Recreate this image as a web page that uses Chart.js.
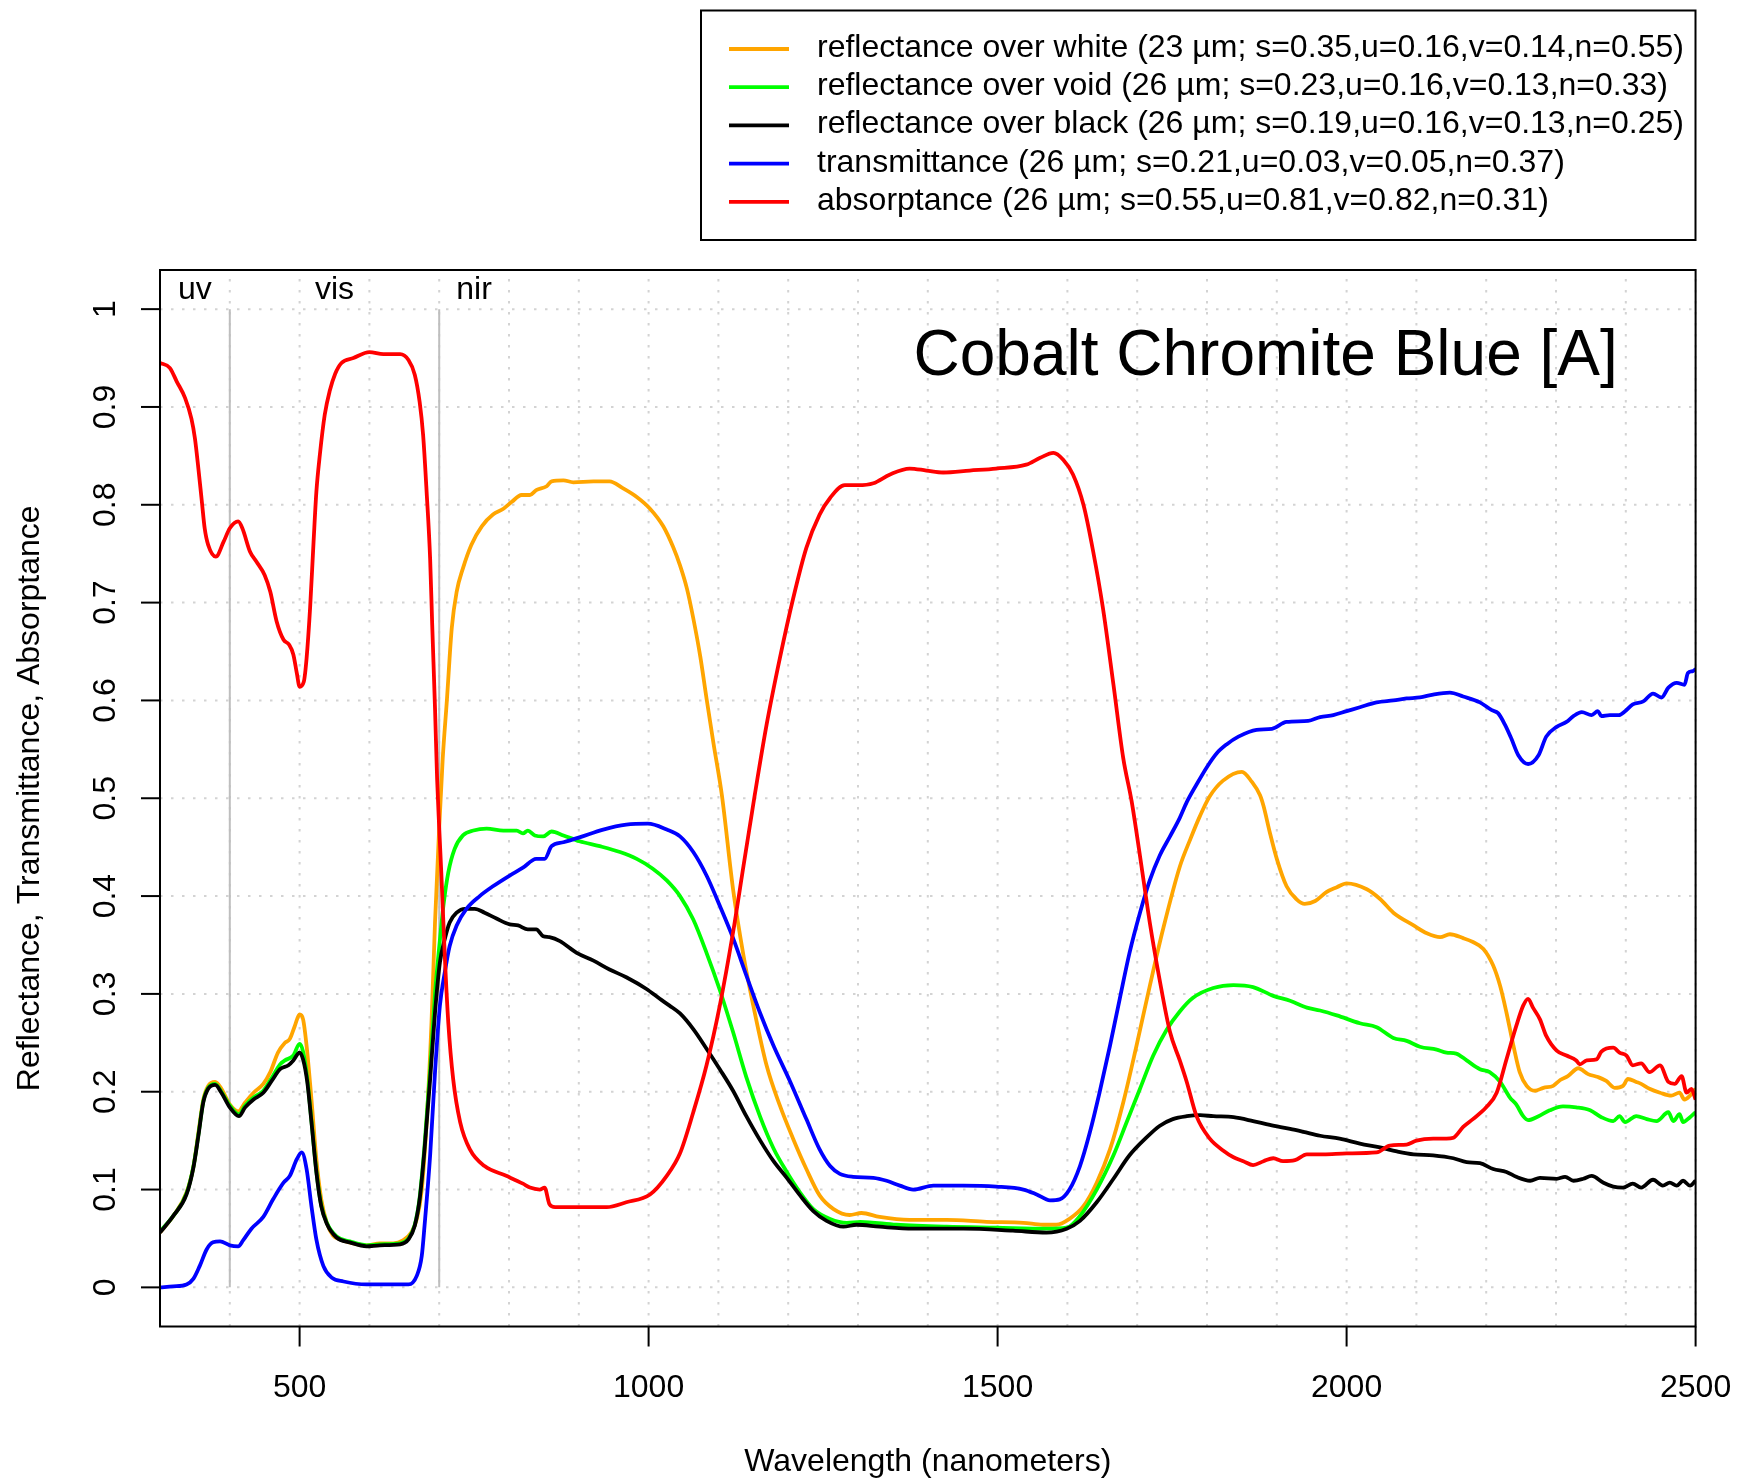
<!DOCTYPE html>
<html>
<head>
<meta charset="utf-8">
<title>Cobalt Chromite Blue [A]</title>
<script src="https://cdn.jsdelivr.net/npm/chart.js@4.4.1/dist/chart.umd.min.js"></script>
<style>
  html, body { margin: 0; padding: 0; background: #fff; }
  canvas { display: block; }
</style>
</head>
<body>
<canvas id="spectrum" width="1741" height="1481"></canvas>
<script>
// ---------- DATA ----------
const whiteNm = [300,319,338,348,355,362,369,379,388,400,412,422,434,448,458,469,479,486,493,500,505,510,517,524,531,539,548,558,577,596,615,634,648,660,668,675,682,689,694,700,705,711,718,725,734,746,761,777,792,804,818,830,839,854,861,878,892,921,944,963,983,1002,1021,1035,1045,1055,1064,1074,1083,1093,1105,1121,1136,1150,1169,1188,1207,1226,1245,1265,1288,1305,1331,1374,1427,1484,1537,1565,1584,1603,1623,1642,1661,1680,1699,1718,1737,1761,1776,1790,1804,1823,1850,1864,1876,1881,1890,1900,1914,1928,1940,1955,1971,1986,2000,2029,2048,2067,2096,2115,2134,2148,2167,2181,2196,2210,2220,2229,2239,2248,2258,2270,2282,2296,2306,2317,2332,2346,2360,2372,2384,2396,2403,2415,2422,2434,2449,2465,2477,2484,2492,2500];
const whiteR = [0.056,0.073,0.097,0.124,0.158,0.192,0.206,0.210,0.203,0.187,0.180,0.189,0.199,0.208,0.220,0.240,0.250,0.254,0.267,0.279,0.274,0.247,0.192,0.131,0.090,0.066,0.053,0.049,0.045,0.043,0.045,0.045,0.048,0.056,0.070,0.100,0.169,0.271,0.373,0.470,0.540,0.600,0.674,0.711,0.735,0.759,0.778,0.790,0.796,0.803,0.810,0.810,0.815,0.819,0.824,0.825,0.823,0.824,0.824,0.817,0.808,0.796,0.778,0.757,0.738,0.714,0.684,0.645,0.602,0.556,0.503,0.407,0.339,0.288,0.227,0.186,0.152,0.121,0.094,0.080,0.074,0.076,0.072,0.069,0.069,0.067,0.066,0.064,0.064,0.070,0.083,0.107,0.141,0.189,0.247,0.308,0.366,0.430,0.458,0.482,0.502,0.518,0.527,0.517,0.503,0.492,0.465,0.438,0.410,0.397,0.392,0.395,0.404,0.409,0.413,0.407,0.397,0.383,0.370,0.362,0.358,0.361,0.357,0.353,0.346,0.329,0.308,0.281,0.247,0.220,0.206,0.201,0.204,0.206,0.212,0.216,0.224,0.218,0.215,0.211,0.204,0.206,0.213,0.210,0.208,0.203,0.199,0.196,0.199,0.192,0.196,0.203];

const voidNm = [300,319,338,348,355,362,369,379,388,400,413,422,434,448,460,472,479,491,500,505,511,517,524,531,539,553,572,596,615,644,656,665,672,679,687,694,701,706,713,722,734,749,768,792,811,820,827,837,849,861,878,901,930,959,983,1006,1026,1045,1064,1083,1102,1121,1140,1160,1179,1198,1217,1236,1260,1284,1303,1355,1427,1498,1570,1599,1618,1642,1666,1685,1704,1723,1742,1761,1780,1809,1838,1866,1895,1919,1943,1962,1986,2019,2043,2067,2086,2105,2129,2143,2157,2172,2191,2205,2220,2234,2243,2253,2260,2275,2291,2310,2329,2349,2365,2382,2391,2399,2415,2430,2444,2461,2468,2477,2482,2492,2500];
const voidR = [0.057,0.073,0.096,0.124,0.156,0.190,0.204,0.208,0.200,0.186,0.177,0.186,0.194,0.201,0.214,0.228,0.232,0.237,0.249,0.241,0.213,0.170,0.119,0.084,0.066,0.052,0.047,0.043,0.044,0.045,0.050,0.064,0.092,0.145,0.222,0.300,0.355,0.390,0.424,0.448,0.462,0.467,0.469,0.467,0.467,0.464,0.467,0.462,0.461,0.466,0.462,0.456,0.451,0.445,0.438,0.428,0.416,0.400,0.376,0.342,0.304,0.261,0.215,0.174,0.142,0.118,0.097,0.080,0.070,0.066,0.067,0.064,0.062,0.061,0.060,0.061,0.073,0.100,0.135,0.169,0.203,0.237,0.263,0.282,0.296,0.306,0.309,0.307,0.298,0.293,0.286,0.283,0.278,0.270,0.266,0.255,0.252,0.246,0.243,0.240,0.239,0.232,0.223,0.220,0.210,0.194,0.187,0.175,0.171,0.175,0.181,0.185,0.184,0.181,0.174,0.170,0.175,0.169,0.175,0.172,0.170,0.179,0.170,0.177,0.169,0.174,0.179];

const blackNm = [300,319,338,348,355,362,369,379,388,400,413,422,434,448,460,472,484,491,500,505,511,517,524,531,539,553,572,596,615,644,656,665,672,679,687,694,701,708,715,725,737,751,765,782,801,813,827,839,849,858,873,897,921,944,968,997,1016,1030,1045,1064,1083,1102,1121,1140,1160,1179,1198,1217,1236,1255,1279,1298,1331,1379,1451,1522,1570,1599,1618,1642,1666,1689,1713,1732,1751,1771,1790,1809,1838,1866,1890,1919,1938,1962,1990,2019,2048,2072,2096,2124,2153,2172,2191,2210,2229,2243,2263,2277,2301,2313,2325,2339,2351,2368,2382,2396,2410,2422,2439,2453,2463,2473,2482,2492,2500];
const blackR = [0.056,0.073,0.095,0.123,0.155,0.189,0.203,0.207,0.199,0.184,0.175,0.184,0.192,0.199,0.211,0.223,0.227,0.232,0.240,0.233,0.210,0.169,0.118,0.083,0.065,0.051,0.046,0.042,0.043,0.044,0.049,0.063,0.090,0.141,0.213,0.281,0.332,0.356,0.373,0.383,0.387,0.387,0.383,0.377,0.371,0.370,0.366,0.366,0.359,0.358,0.354,0.342,0.334,0.325,0.317,0.305,0.295,0.288,0.280,0.264,0.244,0.223,0.201,0.175,0.150,0.129,0.112,0.094,0.078,0.068,0.062,0.064,0.062,0.060,0.060,0.058,0.056,0.060,0.068,0.087,0.111,0.135,0.153,0.165,0.172,0.175,0.176,0.175,0.174,0.170,0.166,0.162,0.159,0.155,0.152,0.147,0.143,0.139,0.136,0.135,0.132,0.128,0.127,0.121,0.118,0.113,0.109,0.112,0.111,0.113,0.109,0.111,0.114,0.107,0.103,0.102,0.106,0.102,0.110,0.104,0.107,0.104,0.109,0.104,0.109];

const transNm = [300,319,338,348,357,367,376,386,400,412,419,431,448,462,477,486,496,503,510,517,524,534,546,563,596,634,656,668,675,679,687,694,701,708,715,725,739,758,777,801,820,839,851,861,878,901,935,968,999,1026,1045,1064,1083,1102,1121,1140,1160,1179,1203,1226,1245,1260,1274,1293,1322,1341,1360,1379,1408,1451,1498,1537,1556,1575,1589,1603,1618,1632,1646,1661,1675,1689,1704,1718,1732,1747,1761,1771,1785,1800,1814,1828,1845,1871,1893,1914,1945,1962,1981,2000,2019,2043,2067,2086,2105,2124,2148,2167,2191,2208,2217,2227,2236,2246,2260,2275,2286,2301,2315,2325,2337,2351,2360,2365,2377,2390,2399,2410,2425,2439,2451,2461,2473,2484,2489,2496,2500];
const transT = [0.000,0.001,0.003,0.009,0.022,0.039,0.046,0.047,0.043,0.042,0.048,0.060,0.072,0.090,0.107,0.114,0.131,0.138,0.121,0.083,0.049,0.022,0.010,0.006,0.003,0.003,0.003,0.012,0.032,0.063,0.135,0.220,0.288,0.322,0.349,0.370,0.387,0.400,0.410,0.421,0.429,0.438,0.438,0.451,0.455,0.460,0.468,0.473,0.474,0.468,0.461,0.445,0.421,0.390,0.357,0.319,0.280,0.247,0.210,0.172,0.141,0.124,0.116,0.113,0.112,0.109,0.104,0.100,0.104,0.104,0.103,0.100,0.095,0.089,0.090,0.100,0.124,0.158,0.199,0.247,0.295,0.342,0.383,0.416,0.441,0.461,0.480,0.496,0.514,0.532,0.546,0.555,0.563,0.570,0.571,0.578,0.579,0.583,0.585,0.589,0.593,0.598,0.600,0.602,0.603,0.606,0.608,0.604,0.598,0.590,0.587,0.575,0.561,0.544,0.535,0.544,0.563,0.573,0.578,0.584,0.588,0.585,0.589,0.584,0.585,0.585,0.589,0.596,0.599,0.607,0.603,0.613,0.618,0.616,0.628,0.630,0.632];

const absNm = [300,314,324,336,345,350,355,360,364,369,380,391,400,412,418,429,438,450,458,467,477,485,491,496,500,506,510,515,520,524,529,536,543,551,560,577,600,620,644,656,665,672,677,682,687,690,694,697,700,703,708,713,720,730,744,765,796,820,830,844,851,858,866,901,940,968,1002,1026,1045,1064,1083,1102,1121,1136,1148,1152,1169,1188,1207,1226,1245,1260,1281,1300,1322,1346,1374,1398,1422,1460,1498,1541,1561,1580,1594,1608,1623,1637,1651,1666,1680,1692,1704,1718,1732,1747,1761,1771,1785,1804,1823,1838,1852,1866,1881,1895,1909,1926,1943,1967,2000,2043,2062,2086,2100,2124,2143,2153,2167,2181,2200,2215,2229,2243,2253,2260,2267,2277,2286,2301,2315,2329,2334,2344,2358,2365,2382,2391,2401,2410,2422,2434,2449,2461,2470,2480,2487,2494,2500];
const absA = [0.945,0.940,0.926,0.909,0.888,0.868,0.837,0.803,0.776,0.759,0.747,0.762,0.776,0.783,0.776,0.752,0.742,0.728,0.711,0.681,0.662,0.657,0.647,0.628,0.614,0.619,0.643,0.694,0.762,0.813,0.851,0.892,0.916,0.934,0.945,0.950,0.956,0.954,0.954,0.948,0.933,0.905,0.871,0.813,0.745,0.677,0.592,0.520,0.470,0.424,0.339,0.271,0.213,0.169,0.141,0.124,0.114,0.106,0.102,0.100,0.102,0.085,0.082,0.082,0.082,0.087,0.095,0.114,0.137,0.179,0.227,0.288,0.363,0.431,0.485,0.503,0.575,0.643,0.704,0.756,0.790,0.807,0.820,0.820,0.822,0.831,0.837,0.835,0.833,0.835,0.837,0.841,0.848,0.853,0.846,0.831,0.800,0.752,0.694,0.616,0.541,0.497,0.441,0.373,0.315,0.261,0.232,0.210,0.175,0.152,0.140,0.133,0.129,0.125,0.129,0.132,0.129,0.130,0.136,0.136,0.137,0.138,0.145,0.146,0.150,0.152,0.152,0.153,0.164,0.172,0.184,0.199,0.233,0.267,0.288,0.295,0.286,0.274,0.257,0.242,0.237,0.232,0.228,0.232,0.233,0.241,0.245,0.240,0.237,0.227,0.229,0.220,0.227,0.210,0.208,0.216,0.199,0.203,0.192];

const seriesLabels = [
  "reflectance over white (23 \u00b5m; s=0.35,u=0.16,v=0.14,n=0.55)",
  "reflectance over void (26 \u00b5m; s=0.23,u=0.16,v=0.13,n=0.33)",
  "reflectance over black (26 \u00b5m; s=0.19,u=0.16,v=0.13,n=0.25)",
  "transmittance (26 \u00b5m; s=0.21,u=0.03,v=0.05,n=0.37)",
  "absorptance (26 \u00b5m; s=0.55,u=0.81,v=0.82,n=0.31)"
];
const seriesColors = ["#FFA500", "#00FF00", "#000000", "#0000FF", "#FF0000"];

const xTicks = [500, 1000, 1500, 2000, 2500];
const yTicks = [0, 0.1, 0.2, 0.3, 0.4, 0.5, 0.6, 0.7, 0.8, 0.9, 1];
const yTickLabels = ["0", "0.1", "0.2", "0.3", "0.4", "0.5", "0.6", "0.7", "0.8", "0.9", "1"];
const gridNm = [300,400,500,600,700,800,900,1000,1100,1200,1300,1400,1500,1600,1700,1800,1900,2000,2100,2200,2300,2400,2500];
const regionEdges = [400, 700];
const regionNames = ["uv", "vis", "nir"];
const regionLabelNm = [350, 550, 750];

const FONT = '"Liberation Sans", Arial, Helvetica, sans-serif';

const toPoints = (nm, vals) => nm.map((w, i) => ({ x: w, y: vals[i] }));

// ---------- R-style frame, grid, labels, legend ----------
const rFrame = {
  id: "rFrame",
  beforeDatasetsDraw(chart) {
    const { ctx, chartArea: a } = chart;
    const x = chart.scales.x, y = chart.scales.y;
    ctx.save();
    // dotted light gray grid
    ctx.strokeStyle = "#D3D3D3";
    ctx.lineWidth = 2;
    ctx.setLineDash([2.5, 8.5]);
    gridNm.forEach((v) => {
      const px = x.getPixelForValue(v);
      ctx.beginPath(); ctx.moveTo(px, a.bottom); ctx.lineTo(px, a.top); ctx.stroke();
    });
    yTicks.forEach((v) => {
      const py = y.getPixelForValue(v);
      ctx.beginPath(); ctx.moveTo(a.left, py); ctx.lineTo(a.right, py); ctx.stroke();
    });
    ctx.setLineDash([]);
    // uv / vis / nir borders
    ctx.strokeStyle = "#BEBEBE";
    ctx.lineWidth = 2;
    regionEdges.forEach((v) => {
      const px = x.getPixelForValue(v);
      ctx.beginPath(); ctx.moveTo(px, y.getPixelForValue(0)); ctx.lineTo(px, y.getPixelForValue(1)); ctx.stroke();
    });
    ctx.restore();
  },
  afterDatasetsDraw(chart) {
    const { ctx, chartArea: a } = chart;
    const x = chart.scales.x, y = chart.scales.y;
    ctx.save();
    ctx.strokeStyle = "#000";
    ctx.fillStyle = "#000";
    ctx.lineWidth = 2;
    ctx.strokeRect(a.left, a.top, a.right - a.left, a.bottom - a.top);

    ctx.font = "32px " + FONT;
    // x axis
    ctx.textAlign = "center";
    ctx.textBaseline = "alphabetic";
    xTicks.forEach((v) => {
      const px = x.getPixelForValue(v);
      ctx.beginPath(); ctx.moveTo(px, a.bottom); ctx.lineTo(px, a.bottom + 20); ctx.stroke();
      ctx.fillText(String(v), px, 1397);
    });
    ctx.fillText("Wavelength (nanometers)", (a.left + a.right) / 2, 1471);

    // y axis (labels parallel to the axis)
    yTicks.forEach((v, i) => {
      const py = y.getPixelForValue(v);
      ctx.beginPath(); ctx.moveTo(a.left, py); ctx.lineTo(a.left - 19, py); ctx.stroke();
      ctx.save();
      ctx.translate(115, py);
      ctx.rotate(-Math.PI / 2);
      ctx.fillText(yTickLabels[i], 0, 0);
      ctx.restore();
    });
    ctx.save();
    ctx.translate(38.5, (a.top + a.bottom) / 2);
    ctx.rotate(-Math.PI / 2);
    ctx.fillText("Reflectance, Transmittance, Absorptance", 0, 0);
    ctx.restore();

    // region names
    regionNames.forEach((t, i) => {
      ctx.fillText(t, x.getPixelForValue(regionLabelNm[i]), y.getPixelForValue(1.02) + 9);
    });

    // title
    ctx.font = "64px " + FONT;
    ctx.fillText("Cobalt Chromite Blue [A]", x.getPixelForValue(1884), y.getPixelForValue(0.933));

    // legend
    ctx.lineWidth = 2;
    ctx.strokeRect(701, 10.5, 994.5, 229.5);
    ctx.font = "32px " + FONT;
    ctx.textAlign = "left";
    seriesLabels.forEach((lab, i) => {
      const ry = 49 + i * 38.2;
      ctx.strokeStyle = seriesColors[i];
      ctx.lineWidth = 3.8;
      ctx.beginPath(); ctx.moveTo(729, ry); ctx.lineTo(789, ry); ctx.stroke();
      ctx.fillText(lab, 817, ry + 8);
    });
    ctx.restore();
  }
};

const series = [
  toPoints(whiteNm, whiteR),
  toPoints(voidNm, voidR),
  toPoints(blackNm, blackR),
  toPoints(transNm, transT),
  toPoints(absNm, absA)
];

new Chart(document.getElementById("spectrum"), {
  type: "line",
  data: {
    datasets: series.map((pts, i) => ({
      label: seriesLabels[i],
      data: pts,
      borderColor: seriesColors[i],
      borderWidth: 3.8,
      pointRadius: 0,
      fill: false,
      cubicInterpolationMode: "monotone",
      order: 5 - i
    }))
  },
  options: {
    responsive: false,
    devicePixelRatio: 1,
    animation: false,
    events: [],
    layout: { padding: { top: 270, right: 45.4, left: 0, bottom: 0 } },
    plugins: { legend: { display: false }, tooltip: { enabled: false } },
    scales: {
      x: {
        type: "linear", min: 300, max: 2500,
        ticks: { display: false }, grid: { display: false }, border: { display: false },
        afterFit: (s) => { s.height = 154.5; }
      },
      y: {
        type: "linear", min: -0.04, max: 1.04,
        ticks: { display: false }, grid: { display: false }, border: { display: false },
        afterFit: (s) => { s.width = 160; }
      }
    }
  },
  plugins: [rFrame]
});
</script>
</body>
</html>
